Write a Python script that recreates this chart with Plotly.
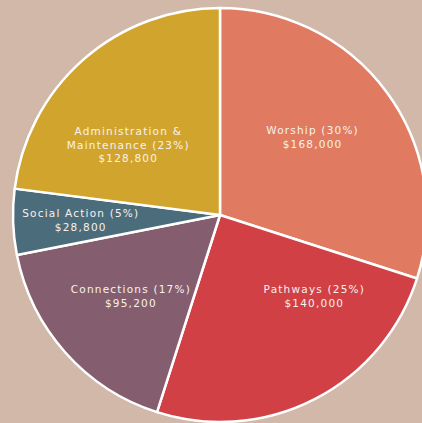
import plotly.graph_objects as go

categories = ["Worship", "Pathways", "Connections", "Social Action", "Administration &<br>Maintenance"]
amounts = [168000, 140000, 95200, 28800, 128800]
pct_labels = ["30%", "25%", "17%", "5%", "23%"]
amount_labels = ["$168,000", "$140,000", "$95,200", "$28,800", "$128,800"]
colors = ["#E07B61", "#D04045", "#845E6E", "#4B6C7A", "#D1A52D"]

texts = [f"{c} ({p})<br>{a}" for c, p, a in zip(categories, pct_labels, amount_labels)]

# layout: figure a bit wider than the window so the pie can run off the right edge
W, H = 430, 423
cx, cy, r = 220, 215, 207
# label anchor points (pixels from top-left), layout only
label_px = [(312, 136.5), (314.5, 295.5), (131, 295.5), (80.5, 219.7), (128.5, 144)]

fig = go.Figure(go.Pie(
    labels=categories,
    values=amounts,
    textinfo="none",
    sort=False,
    direction="clockwise",
    rotation=0,
    marker=dict(colors=colors, line=dict(color="white", width=2.5)),
    hoverinfo="skip",
    domain=dict(x=[(cx - r) / W, (cx + r) / W], y=[(H - cy - r) / H, (H - cy + r) / H]),
))

for t, (px, py) in zip(texts, label_px):
    fig.add_annotation(
        text=t, x=px / W, y=1 - py / H, xref="paper", yref="paper",
        xanchor="center", yanchor="middle", showarrow=False, align="center",
        font=dict(family="DejaVu Sans", size=10.5, color="#F7F1EE"),
    )

fig.update_layout(
    width=W, height=H,
    margin=dict(l=0, r=0, t=0, b=0),
    paper_bgcolor="#D1B8A9",
    plot_bgcolor="#D1B8A9",
    showlegend=False,
)

post = """
document.body.style.margin='0';
document.body.style.overflow='hidden';
document.documentElement.style.overflow='hidden';
document.querySelectorAll('.annotation-text').forEach(function(t){t.style.letterSpacing='1.2px';});
"""

fig.write_html("out.html", post_script=post, config={"displayModeBar": False, "staticPlot": True})
